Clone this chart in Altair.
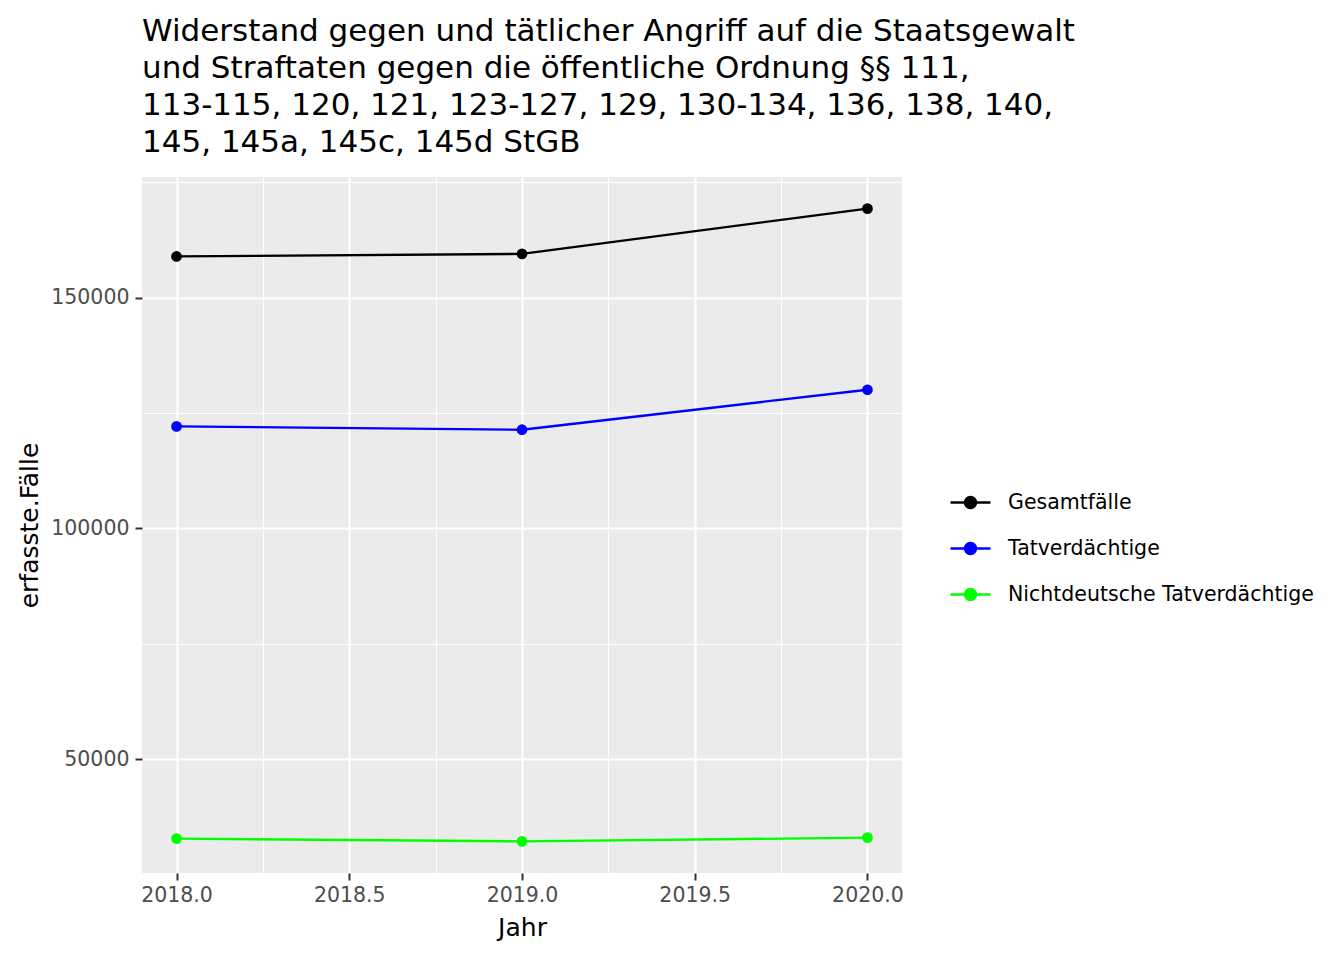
import altair as alt
import pandas as pd

years = [2018, 2019, 2020]
series = ["Gesamtfälle", "Tatverdächtige", "Nichtdeutsche Tatverdächtige"]
colors = ["#000000", "#0000FF", "#00FF00"]
gesamt = [158900, 159450, 169250]
tatverd = [122100, 121380, 130040]
nichtdeutsch = [32850, 32260, 33060]

x_major = [2018, 2018.5, 2019, 2019.5, 2020]
x_minor = [2018.25, 2018.75, 2019.25, 2019.75]
y_major = [50000, 100000, 150000]
y_minor = [75000, 125000, 175000]

title_lines = [
    "Widerstand gegen und tätlicher Angriff auf die Staatsgewalt",
    "und Straftaten gegen die öffentliche Ordnung §§ 111,",
    "113-115, 120, 121, 123-127, 129, 130-134, 136, 138, 140,",
    "145, 145a, 145c, 145d StGB",
]

rows = []
for name, vals in zip(series, [gesamt, tatverd, nichtdeutsch]):
    for yr, v in zip(years, vals):
        rows.append({"Jahr": yr, "Faelle": v, "Reihe": name})
df = pd.DataFrame(rows)

FONT = "DejaVu Sans"
xs = alt.Scale(domain=[2017.9, 2020.1], nice=False, zero=False)
ys = alt.Scale(domain=[25410, 176100], nice=False, zero=False)
cs = alt.Scale(domain=series, range=colors)

legend_path = "M-1,0L1,0M-0.28,0A0.28,0.28,0,1,1,0.28,0A0.28,0.28,0,1,1,-0.28,0Z"


def make_legend():
    return alt.Legend(
        title=None, orient="none", legendX=807, legendY=304,
        symbolType=legend_path, symbolSize=1600, symbolStrokeWidth=2.3,
        symbolOpacity=1,
        labelFontSize=20.5, labelFont=FONT, labelColor="black", labelLimit=500,
        labelOffset=16, rowPadding=14, padding=0,
    )


x_main = alt.X("Jahr:Q", scale=xs, title="Jahr",
               axis=alt.Axis(values=x_major, format=".1f", grid=True, gridColor="white",
                             gridWidth=2.2, domain=False, tickColor="#333333", tickWidth=2,
                             tickSize=7, labelPadding=5, labelFontSize=20.5, labelColor="#4D4D4D",
                             titleFontSize=25, titleColor="black", titleFontWeight="normal",
                             titlePadding=10, labelFont=FONT, titleFont=FONT))
y_main = alt.Y("Faelle:Q", scale=ys, title="erfasste.Fälle",
               axis=alt.Axis(values=y_major, format="d", grid=True, gridColor="white",
                             gridWidth=2.2, domain=False, tickColor="#333333", tickWidth=2,
                             tickSize=7, labelPadding=6, labelFontSize=20.5, labelColor="#4D4D4D",
                             titleFontSize=25, titleColor="black", titleFontWeight="normal",
                             titlePadding=8, labelFont=FONT, titleFont=FONT))

lines = alt.Chart(df).mark_line(strokeWidth=2.3).encode(
    x=x_main, y=y_main,
    color=alt.Color("Reihe:N", scale=cs, sort=series, legend=make_legend()),
)
points = alt.Chart(df).mark_point(filled=True, size=115, opacity=1).encode(
    x=x_main, y=y_main,
    fill=alt.Fill("Reihe:N", scale=cs, sort=series, legend=make_legend()),
)
main = alt.layer(lines, points)

minor = alt.Chart(df).mark_point(opacity=0).encode(
    x=alt.X("Jahr:Q", scale=xs,
            axis=alt.Axis(values=x_minor, grid=True, gridColor="white", gridWidth=1.1,
                          labels=False, ticks=False, domain=False, title=None)),
    y=alt.Y("Faelle:Q", scale=ys,
            axis=alt.Axis(values=y_minor, grid=True, gridColor="white", gridWidth=1.1,
                          labels=False, ticks=False, domain=False, title=None)),
)

chart = alt.layer(main, minor).resolve_axis(x="independent", y="independent").properties(
    width=760,
    height=696,
    autosize=alt.AutoSizeParams(type="none"),
    padding={"left": 134, "top": 169, "right": 430, "bottom": 80},
    title=alt.Title(title_lines, anchor="start", frame="group", fontSize=31, lineHeight=37,
                    font=FONT, fontWeight="normal", color="black", offset=18),
).configure(font=FONT).configure_view(fill="#EBEBEB", strokeWidth=0)

chart.save("out.html", embed_options={"renderer": "svg", "actions": False})
